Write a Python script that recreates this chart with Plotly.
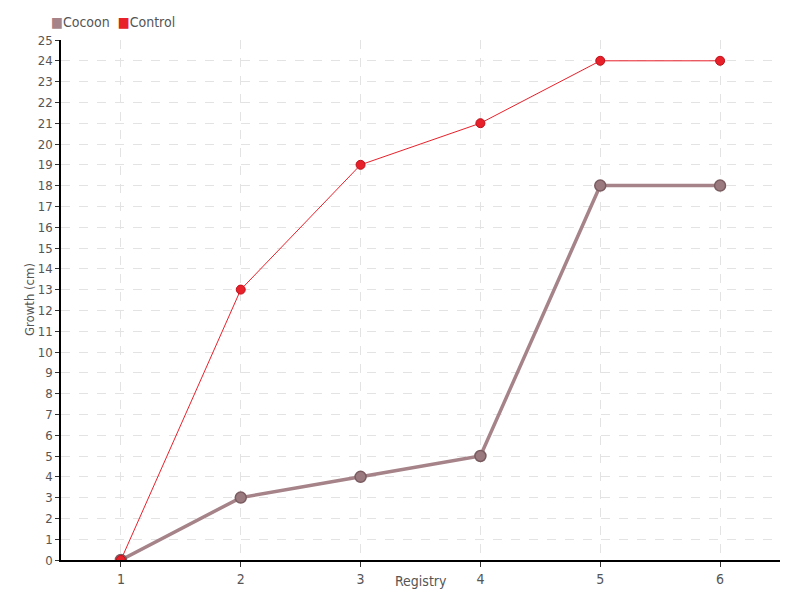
import plotly.graph_objects as go

registry = [1, 2, 3, 4, 5, 6]
cocoon = [0, 3, 4, 5, 18, 18]
control = [0, 13, 19, 21, 24, 24]
y_ticks = list(range(0, 26))
series_names = ["Cocoon", "Control"]
x_title = "Registry"
y_title = "Growth (cm)"

FONT = "DejaVu Sans Condensed, Roboto, sans-serif"
COC = "#a58388"
CTL = "#e8202a"

W, H = 784, 584
ML, MR, MT, MB = 53, 12, 32, 32
PW, PH = W - ML - MR, H - MT - MB

fig = go.Figure()
fig.add_trace(go.Scatter(x=registry, y=cocoon, mode="lines+markers", name=series_names[0],
                         line=dict(color=COC, width=3.5),
                         marker=dict(size=11, color="#9a7a7f", line=dict(color="#7a5c60", width=1.5))))
fig.add_trace(go.Scatter(x=registry, y=control, mode="lines+markers", name=series_names[1],
                         line=dict(color=CTL, width=1),
                         marker=dict(size=9, color=CTL, line=dict(color="#c0101a", width=1))))

legend_html = (f'<span style="color:{COC}">■</span>{series_names[0]}  '
               f'<span style="color:{CTL}">■</span>{series_names[1]}')
fig.add_annotation(text=legend_html, xref="paper", yref="paper", x=-12 / PW, y=1 + 18 / PH,
                   xanchor="left", yanchor="middle", showarrow=False,
                   font=dict(size=14, color="#555555"))
fig.add_annotation(text=x_title, xref="paper", yref="paper", x=0.5, y=-21 / PH,
                   xanchor="center", yanchor="middle", showarrow=False,
                   font=dict(size=14, color="#555555"))
fig.add_annotation(text=y_title, xref="paper", yref="paper", x=-32 / PW, y=0.5,
                   xanchor="center", yanchor="middle", showarrow=False, textangle=-90,
                   font=dict(size=13, color="#555555"))

fig.update_layout(
    width=W, height=H,
    paper_bgcolor="white", plot_bgcolor="white",
    margin=dict(l=ML, r=MR, t=MT, b=MB),
    font=dict(family=FONT, size=13, color="#555555"),
    showlegend=False,
)
fig.update_xaxes(range=[0.5, 6.5], tickvals=registry, ticks="outside", ticklen=5,
                 tickcolor="#333", showline=True, linecolor="#000", linewidth=1.5,
                 showgrid=True, gridcolor="#e3e3e3", griddash="dash", zeroline=False,
                 automargin=False, tickfont=dict(size=14))
fig.update_yaxes(range=[0, 25], tickvals=y_ticks, ticks="outside", ticklen=4,
                 tickcolor="#333", showline=True, linecolor="#000", linewidth=1.5,
                 showgrid=True, gridcolor="#e3e3e3", griddash="dash", zeroline=False,
                 automargin=False, tickfont=dict(size=13))

fig.write_html("out.html")
